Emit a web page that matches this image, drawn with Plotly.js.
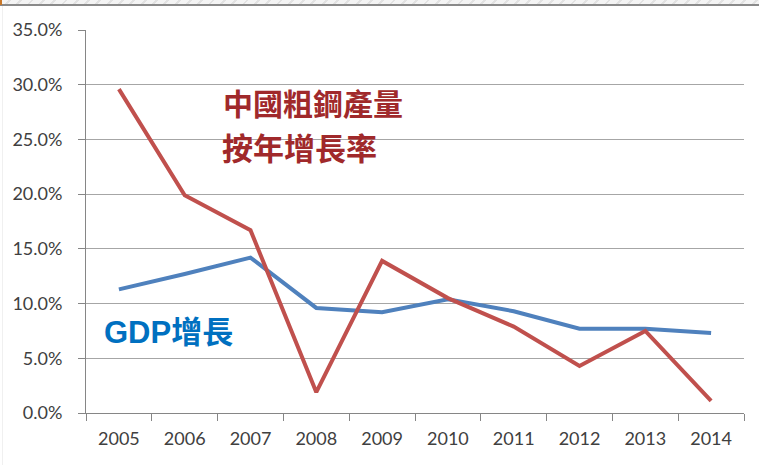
<!DOCTYPE html>
<html>
<head>
<meta charset="utf-8">
<script src="https://cdn.plot.ly/plotly-3.0.1.min.js"></script>
<style>
  html, body { margin: 0; padding: 0; background: #fff; }
  #wrap { position: relative; width: 759px; height: 465px; overflow: hidden; }
  #chart { position: absolute; left: 0; top: 0; width: 759px; height: 465px; }
  #topstrip { position: absolute; left: 0; top: 0; width: 759px; height: 4px;
    background: repeating-linear-gradient(135deg, #f4f4f4 0 6px, #e2e2e2 6px 8px); z-index: 5; }
  #topline { position: absolute; left: 0; top: 4px; width: 759px; height: 2px; background: #8a8a8a; z-index: 5; }
  #corner { position: absolute; left: 0; top: 0; width: 2px; height: 5px; background: #c9782a; z-index: 6; }
  #leftline { position: absolute; left: 2px; top: 6px; width: 1px; height: 459px; background: #f0f0f0; z-index: 5; }
</style>
</head>
<body>
<div id="wrap">
  <div id="chart"></div>
  <div id="topstrip"></div>
  <div id="topline"></div>
  <div id="corner"></div>
  <div id="leftline"></div>
</div>
<script>
const years = ['2005','2006','2007','2008','2009','2010','2011','2012','2013','2014'];
const steelGrowth = [0.296, 0.199, 0.167, 0.019, 0.139, 0.105, 0.079, 0.043, 0.075, 0.011];
const gdpGrowth = [0.113, 0.127, 0.142, 0.096, 0.092, 0.104, 0.093, 0.077, 0.077, 0.073];
const yTickVals = [0, 0.05, 0.10, 0.15, 0.20, 0.25, 0.30, 0.35];
const steelLabel1 = '中國粗鋼產量';
const steelLabel2 = '按年增長率';
const gdpLabel = 'GDP增長';

const traces = [
  { x: years, y: gdpGrowth, type: 'scatter', mode: 'lines', name: gdpLabel,
    line: { color: '#4F81BD', width: 4 }, hoverinfo: 'skip' },
  { x: years, y: steelGrowth, type: 'scatter', mode: 'lines', name: steelLabel1,
    line: { color: '#C0504D', width: 4 }, hoverinfo: 'skip' }
];

const tickFont = { family: 'Lato, "Open Sans", sans-serif', size: 18, color: '#404040' };

const layout = {
  width: 759, height: 465,
  margin: { l: 86, r: 15, t: 30, b: 52 },
  paper_bgcolor: '#ffffff', plot_bgcolor: '#ffffff',
  showlegend: false,
  font: tickFont,
  xaxis: {
    type: 'category', tickson: 'boundaries', range: [-0.5, 9.5],
    showgrid: false, showline: true, linecolor: '#868686', linewidth: 1,
    ticks: 'outside', ticklen: 7, tickcolor: '#868686', tickwidth: 1,
    ticklabelstandoff: 9,
    tickfont: tickFont,
    fixedrange: true
  },
  yaxis: {
    range: [0, 0.35], tickvals: yTickVals, tickformat: '.1%',
    showgrid: true, gridcolor: '#a6a6a6', gridwidth: 1,
    showline: true, linecolor: '#868686', linewidth: 1,
    ticks: 'outside', ticklen: 7, tickcolor: '#868686', tickwidth: 1,
    ticklabelstandoff: 12,
    zeroline: false,
    tickfont: tickFont,
    fixedrange: true
  },
  annotations: [
    { text: steelLabel1, xref: 'paper', yref: 'paper', x: 0.205, y: 0.812,
      xanchor: 'left', yanchor: 'middle', showarrow: false,
      font: { family: '"Noto Sans CJK TC", sans-serif', size: 30, color: '#A0292B', weight: 'bold' } },
    { text: steelLabel2, xref: 'paper', yref: 'paper', x: 0.203, y: 0.697,
      xanchor: 'left', yanchor: 'middle', showarrow: false,
      font: { family: '"Noto Sans CJK TC", sans-serif', size: 31, color: '#A0292B', weight: 'bold' } },
    { text: gdpLabel, xref: 'paper', yref: 'paper', x: 0.024, y: 0.209,
      xanchor: 'left', yanchor: 'middle', showarrow: false,
      font: { family: '"Liberation Sans", "Noto Sans CJK TC", sans-serif', size: 31, color: '#0070C0', weight: 'bold' } }
  ]
};

Plotly.newPlot('chart', traces, layout, { staticPlot: true, displayModeBar: false });
</script>
</body>
</html>
